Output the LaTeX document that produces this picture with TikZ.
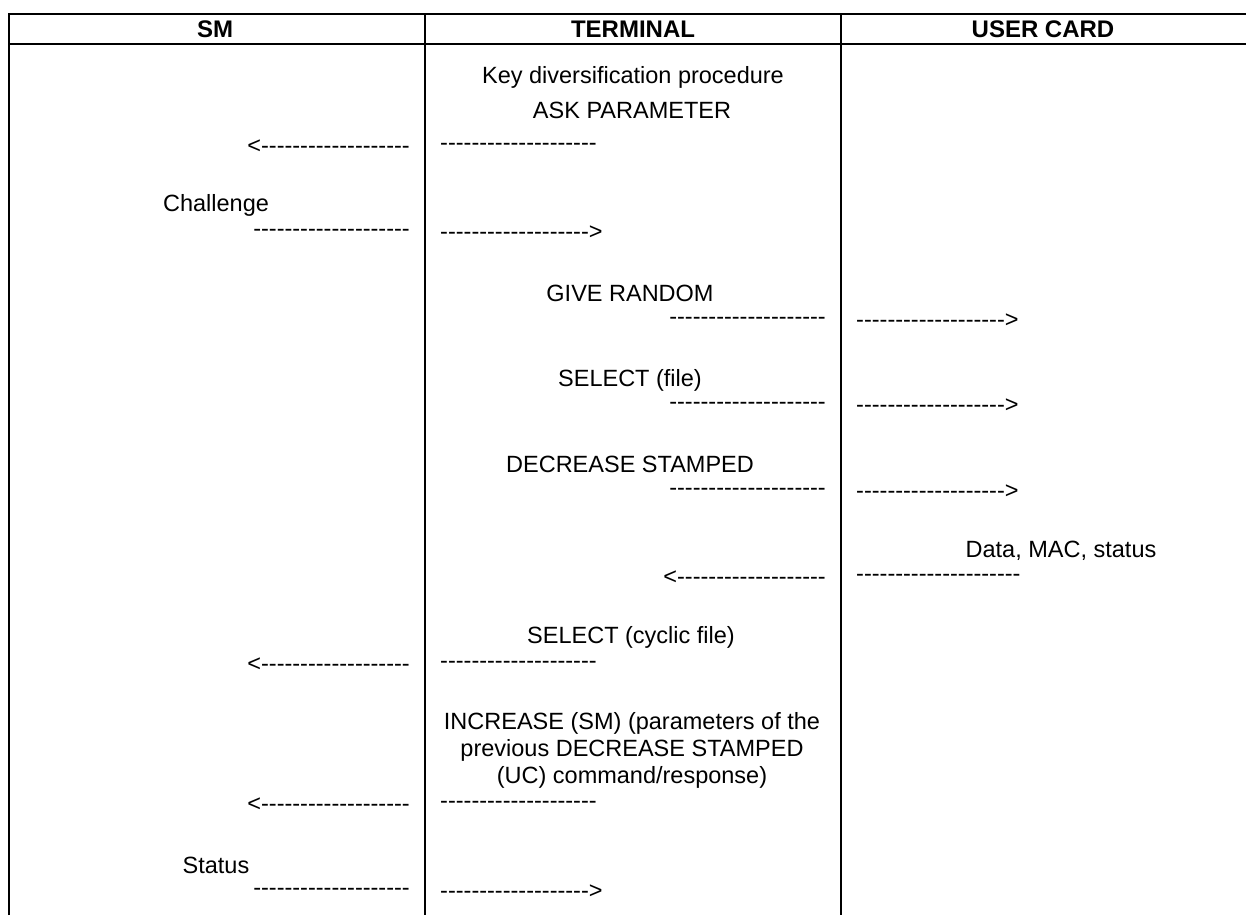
\documentclass[tikz,border=0pt]{standalone}
\usepackage{fontspec}
\setmainfont{Liberation Sans}
\newcount\dashn
\newcommand\dashrun[1]{\dashn=0 \loop\mbox{-}\advance\dashn by 1 \ifnum\dashn<#1\repeat}
\begin{document}
\begin{tikzpicture}[x=1pt, y=-1pt,
    rule/.style={line width=2pt},
    hdr/.style={font=\bfseries\fontsize{24}{28}\selectfont, inner sep=0pt},
    msg/.style={font=\fontsize{23.5}{27}\selectfont, inner sep=0pt, align=center},
    dash_l/.style={font=\fontsize{23.5}{27}\selectfont, inner sep=0pt, anchor=east},
    dash_r/.style={font=\fontsize{23.5}{27}\selectfont, inner sep=0pt, anchor=west}
]
\useasboundingbox (0,0) rectangle (1246,915);
% Table
\draw[rule] (9,915) -- (9,14) -- (1246,14);
\draw[rule] (9,44) -- (1246,44);
\draw[rule] (425,14) -- (425,915);
\draw[rule] (841,14) -- (841,915);
\node[hdr] (sm) at (215,29) {SM};
\node[hdr] (term) at (633,29) {TERMINAL};
\node[hdr] (uc) at (1043,29) {USER CARD};

% SM <-> Terminal
\node[msg] (kdp) at (633,77) {Key diversification procedure};
\node[msg] (ask) at (632,110) {ASK PARAMETER};
\node[dash_l] (ask_l) at (410,147) {<\dashrun{19}};
\node[dash_r] (ask_r) at (440,147) {\dashrun{20}};
\node[msg] (chal) at (216,205) {Challenge};
\node[dash_l] (chal_l) at (410,233) {\dashrun{20}};
\node[dash_r] (chal_r) at (440,233) {\dashrun{19}>};

% Terminal <-> User card
\node[msg] (rnd) at (630,293) {GIVE RANDOM};
\node[dash_l] (rnd_l) at (826,321) {\dashrun{20}};
\node[dash_r] (rnd_r) at (856,321) {\dashrun{19}>};
\node[msg] (self) at (630,380) {SELECT (file)};
\node[dash_l] (self_l) at (826,406) {\dashrun{20}};
\node[dash_r] (self_r) at (856,406) {\dashrun{19}>};
\node[msg] (dec) at (630,464) {DECREASE STAMPED};
\node[dash_l] (dec_l) at (826,492) {\dashrun{20}};
\node[dash_r] (dec_r) at (856,492) {\dashrun{19}>};
\node[msg] (mac) at (1061,551) {Data, MAC, status};
\node[dash_l] (mac_l) at (826,578) {<\dashrun{19}};
\node[dash_r] (mac_r) at (856,578) {\dashrun{21}};

% Terminal <-> SM
\node[msg] (selc) at (631,637) {SELECT (cyclic file)};
\node[dash_l] (selc_l) at (410,665) {<\dashrun{19}};
\node[dash_r] (selc_r) at (440,665) {\dashrun{20}};
\node[msg] (inc) at (632,750) {INCREASE (SM) (parameters of the\\previous DECREASE STAMPED\\(UC) command/response)};
\node[dash_l] (inc_l) at (410,805) {<\dashrun{19}};
\node[dash_r] (inc_r) at (440,805) {\dashrun{20}};
\node[msg] (stat) at (216,865) {Status};
\node[dash_l] (stat_l) at (410,892) {\dashrun{20}};
\node[dash_r] (stat_r) at (440,892) {\dashrun{19}>};
\end{tikzpicture}
\end{document}
